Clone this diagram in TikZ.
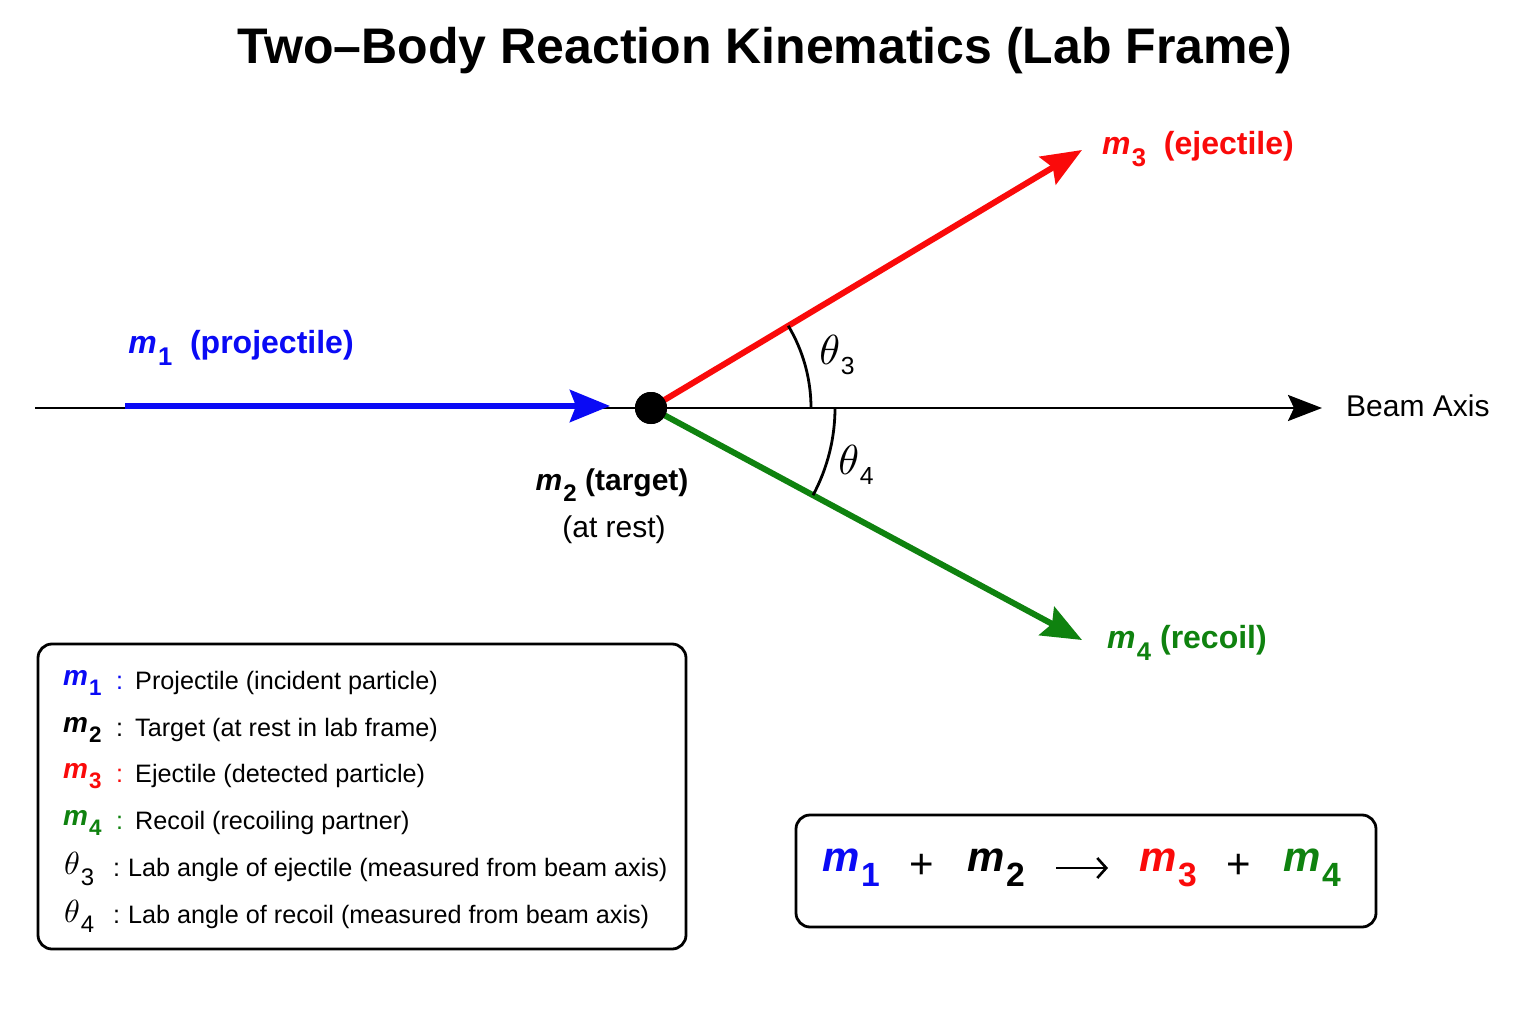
\documentclass[tikz,border=0pt]{standalone}
\usepackage{fontspec}
\usepackage{graphicx}
\setmainfont{Liberation Sans}
\usetikzlibrary{arrows.meta}
\definecolor{cblue}{RGB}{10,10,245}
\definecolor{cred}{RGB}{250,10,10}
\definecolor{cgreen}{RGB}{15,130,15}
\newcommand{\mlab}[2]{{\color{#1}\textbf{\textit{m}}\kern0.04em\raisebox{-0.36em}{\scalebox{0.8}{\textbf{#2}}}}}
\newcommand{\thlab}[2]{\scalebox{#2}{\normalsize$\theta$}\kern0.03em\raisebox{-0.4em}{\scalebox{0.95}{#1}}}
\begin{document}
\begin{tikzpicture}[x=1pt,y=-1pt,
  axisline/.style={line width=2.6pt, -{Stealth[length=34pt,width=26pt,inset=6pt]}},
  beam/.style={line width=6pt, -{Stealth[length=40pt,width=32pt,inset=6pt]}},
  outline/.style={draw, line width=2.8pt, rounded corners=14pt, inner sep=0pt},
  legtxt/.style={anchor=west, font=\fontsize{25.2}{28}\selectfont, inner sep=0pt},
  legsym/.style={anchor=west, font=\fontsize{28}{32}\selectfont, inner sep=0pt},
  partlab/.style={font=\fontsize{32}{36}\selectfont\bfseries, inner sep=0pt},
  eqn/.style={font=\fontsize{42}{46}\selectfont, inner sep=0pt},
  anglearc/.style={line width=2.8pt}
]
\useasboundingbox (0,0) rectangle (1536,1024);
\fill[white] (0,0) rectangle (1536,1024);

\node[font=\fontsize{50}{54}\selectfont\bfseries] (title) at (765,51) {Two--Body Reaction Kinematics (Lab Frame)};

% beam axis
\coordinate (axL) at (35,408);
\coordinate (axR) at (1322,408);
\draw[axisline] (axL) -- (axR);
\node[anchor=west, font=\fontsize{30}{34}\selectfont, inner sep=0pt] (beamlab) at (1346,406) {Beam Axis};

% target
\node[circle, fill=black, inner sep=0pt, minimum size=32pt] (tgt) at (651,408) {};

% projectile
\coordinate (bL) at (125,406);
\coordinate (bR) at (610,406);
\draw[beam, cblue] (bL) -- (bR);

% ejectile and recoil
\coordinate (rT) at (1082,150);
\coordinate (gT) at (1082,640);
\draw[beam, cred] (tgt.center) -- (rT);
\draw[beam, cgreen] (tgt.center) -- (gT);
\node[circle, fill=black, inner sep=0pt, minimum size=32pt] at (tgt.center) {};

% angle arcs
\draw[anglearc] (tgt.center) ++(160,0) arc[start angle=0, end angle=-30.9, radius=160];
\draw[anglearc] (tgt.center) ++(184,0) arc[start angle=0, end angle=28.3, radius=184];
\node[font=\fontsize{26}{30}\selectfont, inner sep=0pt] (th3) at (837,355) {\thlab{3}{4.2}};
\node[font=\fontsize{26}{30}\selectfont, inner sep=0pt] (th4) at (856,465) {\thlab{4}{4.2}};

% particle labels
\node[partlab, cblue] (l1) at (241,348) {\mlab{cblue}{1}\ \ (projectile)};
\node[partlab, cred] (l3) at (1198,149) {\mlab{cred}{3}\ \ (ejectile)};
\node[partlab, cgreen] (l4) at (1187,643) {\mlab{cgreen}{4}\ (recoil)};
\node[partlab, font=\fontsize{30}{34}\selectfont\bfseries] (l2) at (612,485) {\mlab{black}{2} (target)};
\node[font=\fontsize{30}{34}\selectfont, inner sep=0pt] (l2b) at (614,530) {(at rest)};

% legend
\node[outline, minimum width=648pt, minimum height=305pt] (leg) at (362,796.5) {};
\node[legsym] (s1) at (63,683) {\mlab{cblue}{1}};
\node[legtxt, cblue] (c1) at (116,683) {:};
\node[legtxt] (t1) at (135,683) {Projectile (incident particle)};
\node[legsym] (s2) at (63,730) {\mlab{black}{2}};
\node[legtxt] (c2) at (116,730) {:};
\node[legtxt] (t2) at (135,730) {Target (at rest in lab frame)};
\node[legsym] (s3) at (63,776) {\mlab{cred}{3}};
\node[legtxt, cred] (c3) at (116,776) {:};
\node[legtxt] (t3) at (135,776) {Ejectile (detected particle)};
\node[legsym] (s4) at (63,823) {\mlab{cgreen}{4}};
\node[legtxt, cgreen] (c4) at (116,823) {:};
\node[legtxt] (t4) at (135,823) {Recoil (recoiling partner)};
\node[legtxt] (s5) at (64,869) {\thlab{3}{3.2}};
\node[legtxt] (c5) at (113,870) {:};
\node[legtxt] (t5) at (128,870) {Lab angle of ejectile (measured from beam axis)};
\node[legtxt] (s6) at (64,916) {\thlab{4}{3.2}};
\node[legtxt] (c6) at (113,917) {:};
\node[legtxt] (t6) at (128,917) {Lab angle of recoil (measured from beam axis)};

% equation
\node[outline, minimum width=580pt, minimum height=112pt] (eqbox) at (1086,871) {};
\node[eqn] (e1) at (851,868) {\mlab{cblue}{1}};
\node[eqn] (ep1) at (922,866) {+};
\node[eqn] (e2) at (996,868) {\mlab{black}{2}};
\coordinate (arL) at (1056,868);
\coordinate (arR) at (1108,868);
\draw[line width=2.6pt, -{Straight Barb[length=9pt,width=20pt,line width=2.6pt]}] (arL) -- (arR);
\node[eqn] (e3) at (1168,868) {\mlab{cred}{3}};
\node[eqn] (ep2) at (1239,866) {+};
\node[eqn] (e4) at (1312,868) {\mlab{cgreen}{4}};
\end{tikzpicture}
\end{document}
